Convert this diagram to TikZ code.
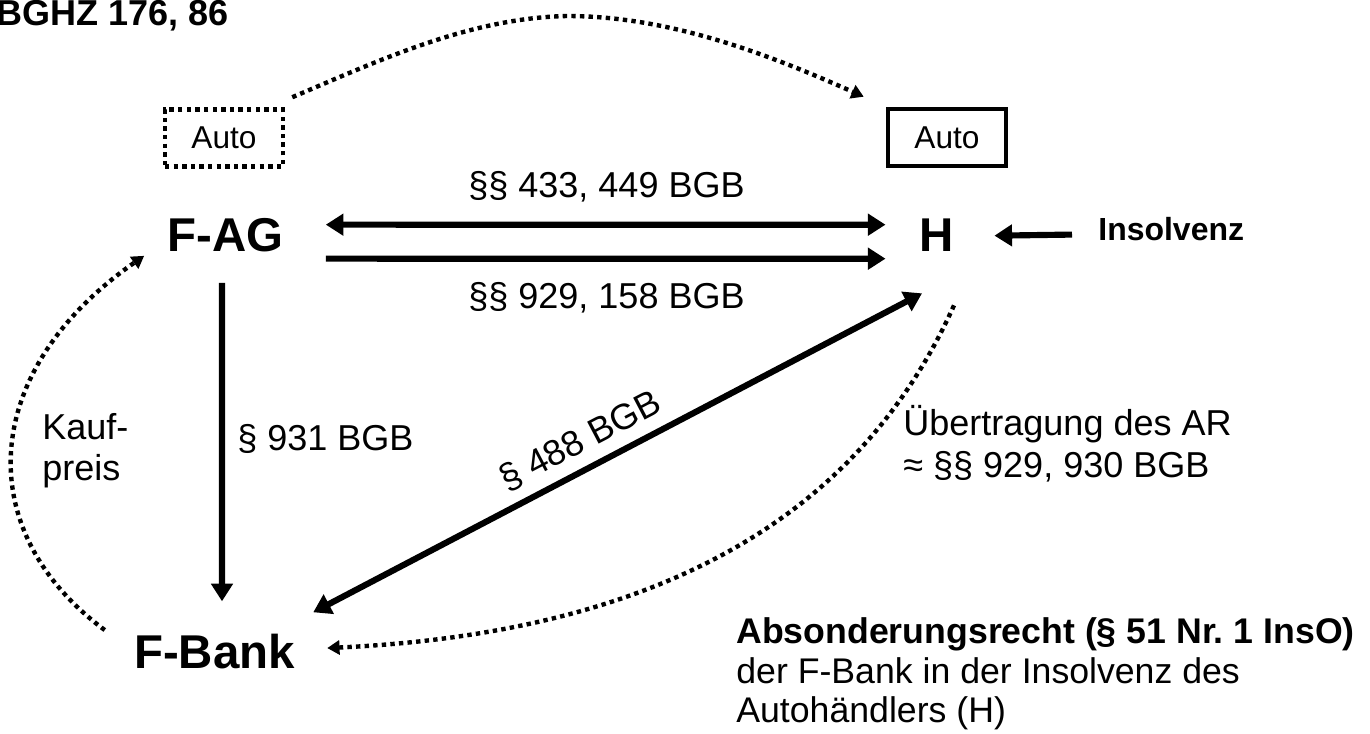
\documentclass[tikz,border=0pt]{standalone}
\usepackage{fontspec}
\setmainfont{Liberation Sans}
\usetikzlibrary{arrows.meta,calc}
\frenchspacing

\begin{document}
\begin{tikzpicture}[
    x=0.02cm,y=-0.02cm,
    party/.style={inner sep=0pt,font=\fontsize{27}{30}\selectfont\bfseries},
    note/.style={inner sep=0pt,font=\fontsize{20.5}{22.8}\selectfont},
    head/.style={inner sep=0pt,font=\fontsize{20.5}{22.8}\selectfont\bfseries},
    car/.style={draw,line width=2.6pt,minimum width=2.36cm,minimum height=1.14cm,
      inner sep=0pt,font=\fontsize{18}{20}\selectfont},
    rel/.style={line width=3.5pt,>={Triangle[length=10pt,width=12pt]}},
    hint/.style={line width=2.5pt,dash pattern=on 2.5pt off 2.4pt,
      >={Triangle[length=7pt,width=8pt]}}
  ]
  \useasboundingbox (0,0) rectangle (1370,734);
  % parties
  \node [party,anchor=base] (fag) at (225.5,251) {F-AG};
  \node [party,anchor=base] (h) at (937,251) {H};
  \node [party,anchor=base] (fbank) at (214.5,668) {F-Bank};
  % the car
  \node [car,dash pattern=on 2.5pt off 2.4pt] (autoL) at (224,138) {Auto};
  \node [car] (autoR) at (947,137.5) {Auto};
  % texts
  \node [head,anchor=base west] (case) at (-4,25) {BGHZ 176, 86};
  \node [head,font=\fontsize{18.2}{20}\selectfont\bfseries,anchor=base west] (insolv) at (1098,240) {Insolvenz};
  \node [note,anchor=base] (l433) at (606.5,197) {§§ 433, 449 BGB};
  \node [note,anchor=base] (l929) at (606.5,308) {§§ 929, 158 BGB};
  \node [note,anchor=base west] (l931) at (237,450) {§ 931 BGB};
  \node [note,anchor=base west,align=left] (price) at (42,480) {Kauf-\\preis};
  \node [note,font=\fontsize{20.5}{23.9}\selectfont,anchor=base west,align=left] (transfer) at (903,477)
    {Übertragung des AR\\≈ §§ 929, 930 BGB};
  \node [note,font=\fontsize{20.3}{22.2}\selectfont,anchor=base west,align=left] (absond) at (736,722)
    {\textbf{Absonderungsrecht (§ 51 Nr. 1 InsO)}\\der F-Bank in der Insolvenz des\\Autohändlers (H)};
  % claims and transfers
  \draw [rel,<->] ($(fag.east)+(42,-10)$) -- ($(h.west)+(-34,-10)$);
  \draw [rel,->] ($(fag.east)+(42,24)$) -- ($(h.west)+(-34,24)$);
  \draw [rel,->] ($(fag.south)+(-3.5,31)$) -- ($(fbank.north)+(7.5,-32)$);
  \draw [rel,<->] ($(fbank.north east)+(18,-21)$)
    -- node [note,sloped,above=6pt,pos=0.46] (l488) {§ 488 BGB} ($(h.south)+(-15,42)$);
  \draw [rel,->] ($(insolv.west)+(-26,6)$) -- ($(h.east)+(40,1)$);
  % dotted
  \draw [hint,->] ($(autoL.north east)+(7,-10)$) .. controls (380,60) and (470,18) .. (567,16)
    .. controls (670,16) and (770,55) .. ($(autoR.north west)+(-22,-10)$);
  \draw [hint,->] ($(fbank.west)+(-29,-21)$) .. controls (-30,530) and (-20,370) .. ($(fag.south west)+(-23,4)$);
  \draw [hint,->] ($(h.south)+(17,54)$) .. controls (880,470) and (720,630) .. ($(fbank.east)+(32,-3)$);
\end{tikzpicture}
\end{document}
